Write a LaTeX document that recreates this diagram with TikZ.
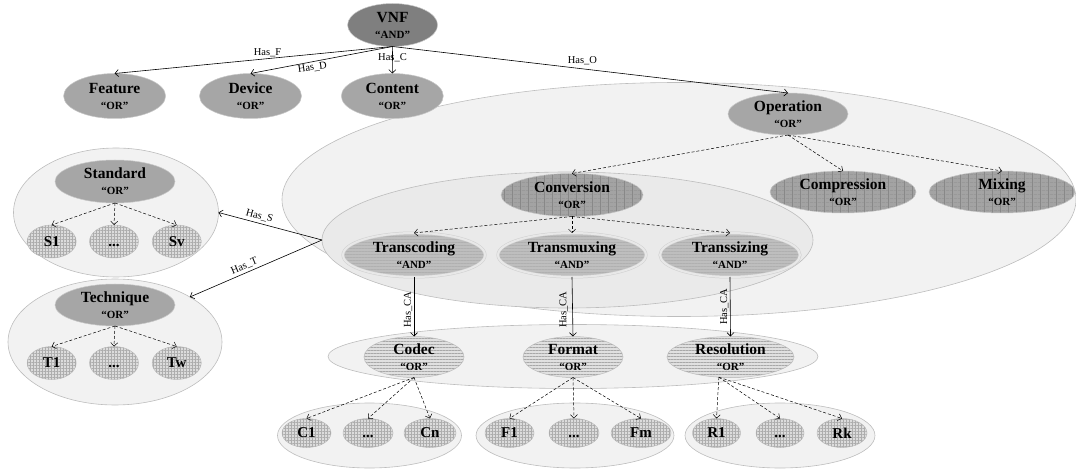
\documentclass[tikz,border=0pt]{standalone}
\usepackage{fontspec}
\setmainfont{Liberation Serif}
\usetikzlibrary{shapes.geometric, arrows.meta, patterns.meta}

\definecolor{dkgray}{HTML}{7F7F7F}
\definecolor{mdgray}{HTML}{A6A6A6}
\definecolor{convfill}{HTML}{A3A3A3}
\definecolor{convline}{HTML}{888888}
\definecolor{transfill}{HTML}{BEBEBE}
\definecolor{transline}{HTML}{B0B0B0}
\definecolor{ringgray}{HTML}{D0D0D0}
\definecolor{ringfill}{HTML}{E8E8E8}
\definecolor{attrfill}{HTML}{E0E0E0}
\definecolor{attrline}{HTML}{A8A8A8}
\definecolor{leaffill}{HTML}{DCDCDC}
\definecolor{leafline}{HTML}{ADADAD}
\definecolor{grpfill}{HTML}{F2F2F2}
\definecolor{grpdraw}{HTML}{BDBDBD}
\definecolor{convgrpfill}{HTML}{EAEAEA}
\definecolor{nodedraw}{HTML}{C8C8C8}

% two-line node text: bold name and its "AND"/"OR" type
\newcommand\twoline[2]{{\fontsize{15.5}{17}\selectfont #1}\\[4pt]{\fontsize{11}{12}\selectfont “#2”}}

\tikzset{
  ell/.style={ellipse, inner sep=0pt, outer sep=0pt, align=center, font=\bfseries},
  wh/.style 2 args={minimum width=#1pt, minimum height=#2pt},
  grp/.style={ell, fill=grpfill, draw=grpdraw, line width=.6pt},
  convgrp/.style={ell, fill=convgrpfill, draw=grpdraw, line width=.6pt},
  darknode/.style={ell, fill=dkgray, draw=nodedraw, line width=.5pt},
  midnode/.style={ell, fill=mdgray, draw=nodedraw, line width=.5pt},
  gridnode/.style={ell, draw=nodedraw, line width=.5pt, preaction={fill=convfill},
    pattern={Lines[angle=90,distance=8pt,line width=.5pt]}, pattern color=convline,
    postaction={pattern={Lines[angle=0,distance=4pt,line width=.3pt]}, pattern color=convline}},
  transnode/.style={ell, draw=ringgray, double=ringfill, double distance=2pt, line width=.5pt,
    preaction={fill=transfill}, pattern={Lines[angle=0,distance=3pt,line width=.25pt]}, pattern color=transline},
  attrnode/.style={ell, draw=grpdraw, line width=.5pt, preaction={fill=attrfill},
    pattern={Lines[angle=0,distance=3pt,line width=.35pt]}, pattern color=attrline},
  leafnode/.style={ell, draw=grpdraw, line width=.5pt, preaction={fill=leaffill},
    pattern={Lines[angle=0,distance=3pt,line width=.3pt]}, pattern color=leafline,
    postaction={pattern={Lines[angle=90,distance=3pt,line width=.3pt]}, pattern color=leafline},
    font=\bfseries\fontsize{15}{16}\selectfont},
  arr/.style={-{Straight Barb[length=3.5pt,width=7pt]}, line width=.6pt, black},
  darr/.style={-{Straight Barb[length=3.5pt,width=7pt]}, line width=.5pt, black, dash pattern=on 3pt off 2pt},
  elab/.style={font=\fontsize{10.5}{12}\selectfont, inner sep=1.5pt}
}

\begin{document}
\begin{tikzpicture}[x=1pt, y=-1pt]
\useasboundingbox (0,0) rectangle (1076,470);

% grouping ellipses
\node[grp, wh={794}{234}] (opgroup) at (679,199.5) {};
\node[convgrp, wh={491}{136}] (convgroup) at (567.5,240) {};
\node[grp, wh={205}{129}] (stdgroup) at (116,212.5) {};
\node[grp, wh={214}{126}] (techgroup) at (115,342) {};
\node[grp, wh={490}{64}] (cagroup) at (573,356.5) {};
\node[grp, wh={184}{65}] (cgroup) at (369.5,435.5) {};
\node[grp, wh={198}{65}] (fgroup) at (575,435.5) {};
\node[grp, wh={190}{65}] (rgroup) at (780,435.5) {};

% top level
\node[darknode, wh={90}{43}] (vnf) at (392.6,25) {\twoline{VNF}{AND}};
\node[midnode, wh={102}{45}] (feature) at (114.6,96) {\twoline{Feature}{OR}};
\node[midnode, wh={102}{45}] (device) at (250.5,96) {\twoline{Device}{OR}};
\node[midnode, wh={102}{45}] (content) at (392.3,96) {\twoline{Content}{OR}};
\node[midnode, wh={120}{42}] (operation) at (788,114) {\twoline{Operation}{OR}};

% operations
\node[gridnode, wh={142}{43}] (conversion) at (572,195) {\twoline{Conversion}{OR}};
\node[gridnode, wh={146}{42}] (compression) at (843,192) {\twoline{Compression}{OR}};
\node[gridnode, wh={146}{42}] (mixing) at (1002,192) {\twoline{Mixing}{OR}};
\node[transnode, wh={142}{44}] (transcoding) at (414,255) {\twoline{Transcoding}{AND}};
\node[transnode, wh={148}{44}] (transmuxing) at (572,255) {\twoline{Transmuxing}{AND}};
\node[transnode, wh={140}{44}] (transsizing) at (730,255) {\twoline{Transsizing}{AND}};

% standards and techniques
\node[midnode, wh={120}{43}] (standard) at (115,181.5) {\twoline{Standard}{OR}};
\node[leafnode, wh={49}{33}] (s1) at (51.7,241.5) {S1};
\node[leafnode, wh={49}{33}] (sdots) at (114,241.5) {\vphantom{S}...};
\node[leafnode, wh={49}{33}] (sv) at (176.7,241.5) {Sv};
\node[midnode, wh={120}{42}] (technique) at (115,305) {\twoline{Technique}{OR}};
\node[leafnode, wh={49}{33}] (t1) at (51.7,363) {T1};
\node[leafnode, wh={49}{33}] (tdots) at (114,363) {\vphantom{T}...};
\node[leafnode, wh={49}{33}] (tw) at (176.7,363) {Tw};

% conversion attributes
\node[attrnode, wh={100}{41}] (codec) at (414,357) {\twoline{Codec}{OR}};
\node[attrnode, wh={100}{41}] (format) at (573,357) {\twoline{Format}{OR}};
\node[attrnode, wh={127}{41}] (resolution) at (730.5,357) {\twoline{Resolution}{OR}};
\node[leafnode, wh={49}{29}] (c1) at (306.5,433) {C1};
\node[leafnode, wh={50}{29}] (cdots) at (368,433) {\vphantom{C}...};
\node[leafnode, wh={52}{29}] (cn) at (430,433) {Cn};
\node[leafnode, wh={49}{29}] (f1) at (509.5,433) {F1};
\node[leafnode, wh={50}{29}] (fdots) at (574,433) {\vphantom{F}...};
\node[leafnode, wh={60}{29}] (fm) at (641,433) {Fm};
\node[leafnode, wh={48}{29}] (r1) at (716.5,433) {R1};
\node[leafnode, wh={48}{29}] (rdots) at (780,433) {\vphantom{R}...};
\node[leafnode, wh={50}{29}] (rk) at (842,433) {Rk};

% relations from VNF
\draw[arr] (vnf.south) -- node[elab, pos=.45, above] {Has\_F} (feature.north);
\draw[arr] (vnf.south) -- node[elab, pos=.57, below, rotate=8] {Has\_D} (device.north);
\draw[arr] (vnf.south) -- node[elab, pos=.42] {Has\_C} (content.north);
\draw[arr] (vnf.south) -- node[elab, pos=.48, above=2pt] {Has\_O} (operation.north);

% OR / AND decompositions
\foreach \t in {conversion, compression, mixing} \draw[darr] (operation.south) -- (\t.north);
\foreach \t in {transcoding, transmuxing, transsizing} \draw[darr] (conversion.south) -- (\t.north);
\foreach \t in {s1, sdots, sv} \draw[darr] (standard.south) -- (\t.north);
\foreach \t in {t1, tdots, tw} \draw[darr] (technique.south) -- (\t.north);
\foreach \t in {c1, cdots, cn} \draw[darr] (codec.south) -- (\t.north);
\foreach \t in {f1, fdots, fm} \draw[darr] (format.south) -- (\t.north);
\foreach \t in {r1, rdots, rk} \draw[darr] (resolution.240) -- (\t.north);

% conversion relations
\draw[arr] (convgroup.west) -- node[elab, pos=.62, above=1pt, rotate=-15] {Has\_S} (stdgroup.east);
\draw[arr] (convgroup.west) -- node[elab, pos=.57, above=1pt, rotate=23] {Has\_T} (techgroup.31);
\draw[arr] (transcoding.south) -- node[elab, pos=.55, rotate=90, anchor=south] {Has\_CA} (codec.north);
\draw[arr] (transmuxing.south) -- node[elab, pos=.55, rotate=90, anchor=south, yshift=3pt] {Has\_CA} (format.north);
\draw[arr] (transsizing.south) -- node[elab, pos=.5, rotate=90, anchor=south] {Has\_CA} (resolution.north);
\end{tikzpicture}
\end{document}
